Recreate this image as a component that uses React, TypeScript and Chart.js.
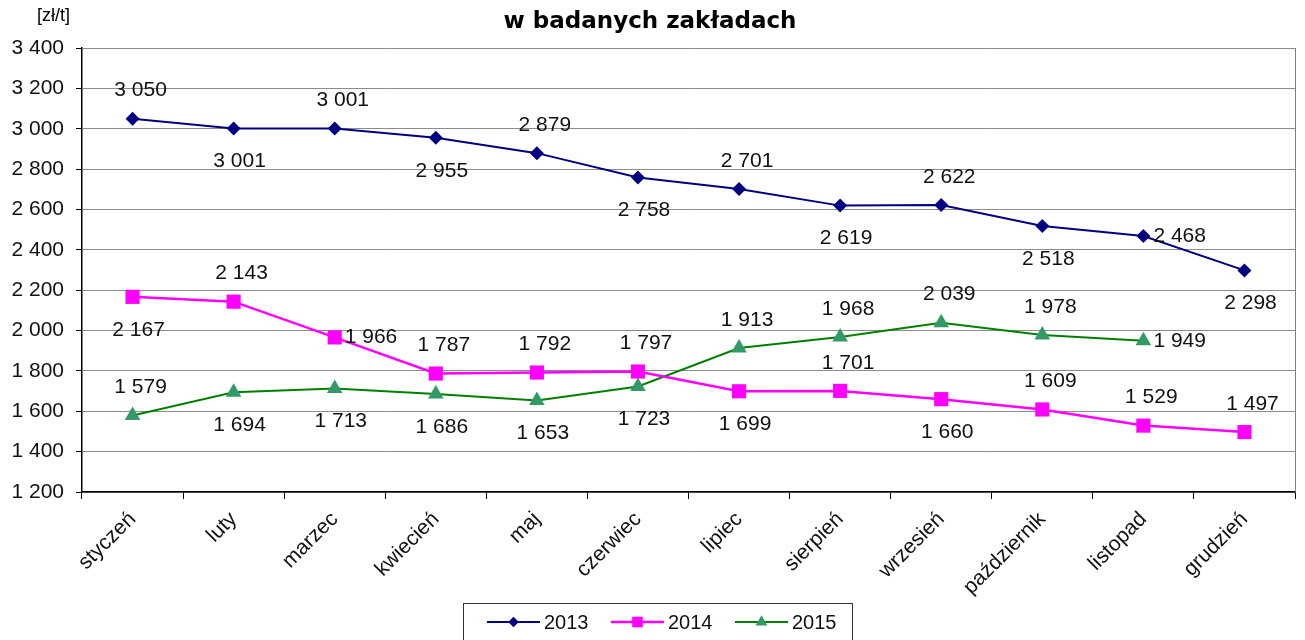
import React, { useEffect, useRef } from "react";
import { Chart, registerables } from "chart.js";

Chart.register(...registerables);

const months = [
  "styczeń", "luty", "marzec", "kwiecień", "maj", "czerwiec",
  "lipiec", "sierpień", "wrzesień", "październik", "listopad", "grudzień",
];
const series2013 = [3050, 3001, 3001, 2955, 2879, 2758, 2701, 2619, 2622, 2518, 2468, 2298];
const series2014 = [2167, 2143, 1966, 1787, 1792, 1797, 1699, 1701, 1660, 1609, 1529, 1497];
const series2015 = [1579, 1694, 1713, 1686, 1653, 1723, 1913, 1968, 2039, 1978, 1949, null];
// label placement: a = above, b = below, r = right
const place2013 = ["a", "b", "a", "b", "a", "b", "a", "b", "a", "b", "r", "b"];
const place2014 = ["b", "a", "r", "a", "a", "a", "b", "a", "b", "a", "a", "a"];
const place2015 = ["a", "b", "b", "b", "b", "b", "a", "a", "a", "a", "r", "a"];
const seriesNames = ["2013", "2014", "2015"];
const yMin = 1200;
const yMax = 3400;
const yStep = 200;
const titleText = "w badanych zakładach";
const unitText = "[zł/t]";

const FONT = '"Liberation Sans", Arial, sans-serif';
const fmt = (v: number) => String(v).replace(/\B(?=(\d{3})+(?!\d))/g, " ");

export default function App() {
  const ref = useRef<HTMLCanvasElement | null>(null);

  useEffect(() => {
    if (!ref.current) return;
    const placements = [place2013, place2014, place2015];

    const decorPlugin = {
      id: "decor",
      afterDatasetsDraw(chart: any) {
        const ctx = chart.ctx;
        const area = chart.chartArea;
        ctx.save();
        // right border of plot
        ctx.strokeStyle = "#7f7f7f";
        ctx.lineWidth = 1;
        ctx.beginPath();
        ctx.moveTo(area.right + 0.5, area.top);
        ctx.lineTo(area.right + 0.5, area.bottom);
        ctx.stroke();
        // data labels
        ctx.font = `21px ${FONT}`;
        ctx.fillStyle = "#111";
        ctx.textBaseline = "middle";
        chart.data.datasets.forEach((ds: any, di: number) => {
          const meta = chart.getDatasetMeta(di);
          meta.data.forEach((pt: any, i: number) => {
            const v = ds.data[i];
            if (v == null) return;
            const p = placements[di][i];
            const t = fmt(v);
            if (p === "r") {
              ctx.textAlign = "left";
              ctx.fillText(t, pt.x + 10, pt.y);
            } else if (p === "a") {
              ctx.textAlign = "center";
              ctx.fillText(t, pt.x + 8, pt.y - 28);
            } else {
              ctx.textAlign = "center";
              ctx.fillText(t, pt.x + 6, pt.y + 33);
            }
          });
        });
        ctx.restore();
      },
      afterDraw(chart: any) {
        const ctx = chart.ctx;
        ctx.save();
        // title
        ctx.font = `bold 23px "DejaVu Sans", Verdana, sans-serif`;
        ctx.fillStyle = "#000";
        ctx.textAlign = "center";
        ctx.textBaseline = "middle";
        ctx.fillText(titleText, 650, 22);
        // unit
        ctx.font = `18px "Liberation Sans Narrow", ${FONT}`;
        ctx.textAlign = "left";
        ctx.fillText(unitText, 37, 16);
        // legend
        const bx = 463, by = 603, bw = 389, bh = 60;
        ctx.strokeStyle = "#333";
        ctx.lineWidth = 1;
        ctx.strokeRect(bx + 0.5, by + 0.5, bw, bh);
        ctx.font = `20px ${FONT}`;
        ctx.textBaseline = "middle";
        chart.data.datasets.forEach((ds: any, di: number) => {
          const x0 = 487 + di * 124;
          const y0 = 622;
          ctx.strokeStyle = ds.borderColor;
          ctx.lineWidth = ds.borderWidth;
          ctx.beginPath();
          ctx.moveTo(x0, y0);
          ctx.lineTo(x0 + 53, y0);
          ctx.stroke();
          ctx.fillStyle = ds.pointBackgroundColor;
          const r = ds.pointRadius * 0.75;
          const cx = x0 + 26.5;
          ctx.beginPath();
          if (ds.pointStyle === "rectRot") {
            ctx.moveTo(cx - r, y0); ctx.lineTo(cx, y0 - r); ctx.lineTo(cx + r, y0); ctx.lineTo(cx, y0 + r);
          } else if (ds.pointStyle === "rect") {
            const s = r * Math.SQRT1_2;
            ctx.rect(cx - s, y0 - s, 2 * s, 2 * s);
          } else {
            ctx.moveTo(cx, y0 - r);
            ctx.lineTo(cx + r * 0.866, y0 + r / 2);
            ctx.lineTo(cx - r * 0.866, y0 + r / 2);
          }
          ctx.closePath();
          ctx.fill();
          ctx.fillStyle = "#111";
          ctx.textAlign = "left";
          ctx.fillText(ds.label, x0 + 57, y0 + 1);
        });
        ctx.restore();
      },
    };

    const chart = new Chart(ref.current, {
      type: "line",
      data: {
        labels: months,
        datasets: [
          {
            label: seriesNames[0], data: series2013,
            borderColor: "#000080", backgroundColor: "#000080",
            pointBackgroundColor: "#000080", pointBorderColor: "#000080",
            borderWidth: 2, pointStyle: "rectRot", pointRadius: 7, pointBorderWidth: 0,
          },
          {
            label: seriesNames[1], data: series2014,
            borderColor: "#ff00ff", backgroundColor: "#ff00ff",
            pointBackgroundColor: "#ff00ff", pointBorderColor: "#ff00ff",
            borderWidth: 2.5, pointStyle: "rect", pointRadius: 10, pointBorderWidth: 0,
          },
          {
            label: seriesNames[2], data: series2015,
            borderColor: "#008000", backgroundColor: "#339966",
            pointBackgroundColor: "#339966", pointBorderColor: "#339966",
            borderWidth: 2, pointStyle: "triangle", pointRadius: 9, pointBorderWidth: 0,
          },
        ] as any,
      },
      options: {
        animation: false,
        responsive: false,
        layout: { padding: { top: 48, right: 7, left: 0, bottom: 0 } },
        plugins: { legend: { display: false }, tooltip: { enabled: false }, title: { display: false } },
        elements: { line: { tension: 0 } },
        scales: {
          x: {
            offset: true,
            grid: { drawOnChartArea: false, offset: true, tickLength: 7, tickColor: "#000" },
            border: { color: "#000", width: 1.5 },
            ticks: {
              font: { family: FONT, size: 21 }, color: "#111",
              maxRotation: 45, minRotation: 45, padding: 8, autoSkip: false,
            },
            afterFit: (s: any) => { s.height = 148; },
          },
          y: {
            min: yMin, max: yMax,
            grid: { color: "#8c8c8c", tickLength: 6, tickColor: "#000" },
            border: { color: "#000", width: 1.5 },
            ticks: {
              stepSize: yStep, font: { family: FONT, size: 21 }, color: "#111", padding: 12,
              callback: (v: any) => fmt(Number(v)),
            },
            afterFit: (s: any) => { s.width = 82; },
          },
        },
      },
      plugins: [decorPlugin],
    } as any);
    return () => chart.destroy();
  }, []);

  return (
    <div style={{ position: "absolute", left: 0, top: 0, width: 1305, height: 640, background: "#fff" }}>
      <canvas ref={ref} width={1305} height={640} />
    </div>
  );
}
